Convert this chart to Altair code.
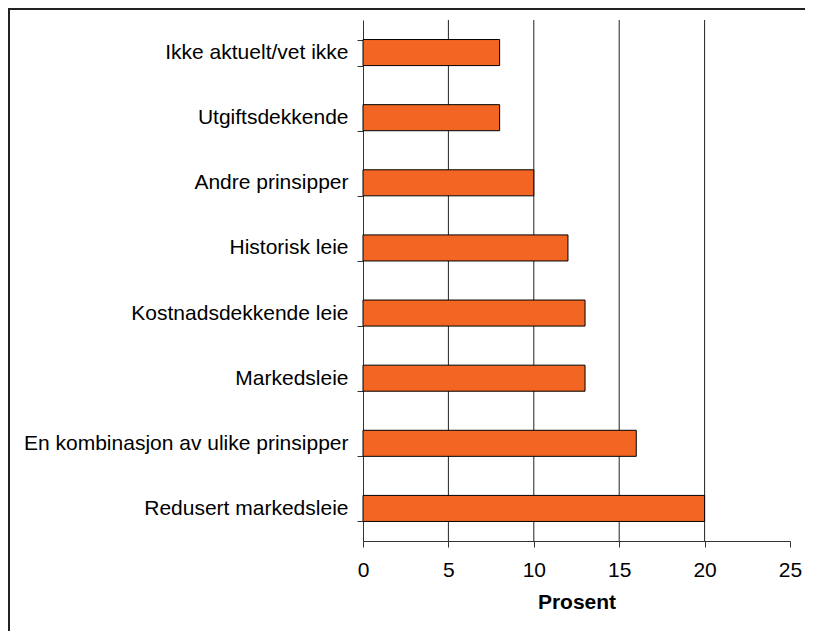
import altair as alt
import pandas as pd

categories = [
    "Ikke aktuelt/vet ikke",
    "Utgiftsdekkende",
    "Andre prinsipper",
    "Historisk leie",
    "Kostnadsdekkende leie",
    "Markedsleie",
    "En kombinasjon av ulike prinsipper",
    "Redusert markedsleie",
]
values = [8, 8, 10, 12, 13, 13, 16, 20]
x_ticks = [0, 5, 10, 15, 20, 25]
grid_values = [5, 10, 15, 20]

df = pd.DataFrame({"category": categories, "value": values})
grid_df = pd.DataFrame({"value": grid_values})

FONT = "Liberation Sans"
W, H = 427, 521
PAD = {"left": 355, "top": 12, "right": 15, "bottom": 90}

grid = alt.Chart(grid_df).mark_rule(color="#222222", strokeWidth=1).encode(
    x=alt.X("value:Q")
)

bars = alt.Chart(df).mark_bar(
    color="#F26522", stroke="black", strokeWidth=1
).encode(
    x=alt.X(
        "value:Q",
        scale=alt.Scale(domain=[0, 25], nice=False),
        axis=alt.Axis(
            values=x_ticks,
            title="Prosent",
            grid=False,
            tickSize=6,
            labelPadding=12,
            labelFlush=False,
            titlePadding=11,
        ),
    ),
    y=alt.Y(
        "category:N",
        sort=categories,
        scale=alt.Scale(paddingInner=0.6, paddingOuter=0.3),
        axis=alt.Axis(
            title=None,
            tickBand="extent",
            tickSize=6,
            labelPadding=9,
            labelLimit=0,
        ),
    ),
)

frame_left = alt.Chart(alt.Data(values=[{}])).mark_rule(
    color="#222222", strokeWidth=2
).encode(
    x=alt.value(-354), y=alt.value(-11), y2=alt.value(H + PAD["bottom"])
)
frame_top = alt.Chart(alt.Data(values=[{}])).mark_rule(
    color="#222222", strokeWidth=2
).encode(
    x=alt.value(-355), x2=alt.value(W + PAD["right"]), y=alt.value(-11)
)

chart = alt.layer(grid, bars, frame_left, frame_top).properties(
    width=W,
    height=H,
    autosize=alt.AutoSizeParams(type="none"),
    padding=PAD,
).configure_view(stroke=None).configure_axis(
    labelFont=FONT,
    titleFont=FONT,
    labelFontSize=21,
    titleFontSize=21,
    labelColor="black",
    titleColor="black",
    domainColor="#333333",
    tickColor="#333333",
    titleFontWeight="bold",
)

chart.save("out.html", embed_options={"renderer": "svg", "actions": False})
